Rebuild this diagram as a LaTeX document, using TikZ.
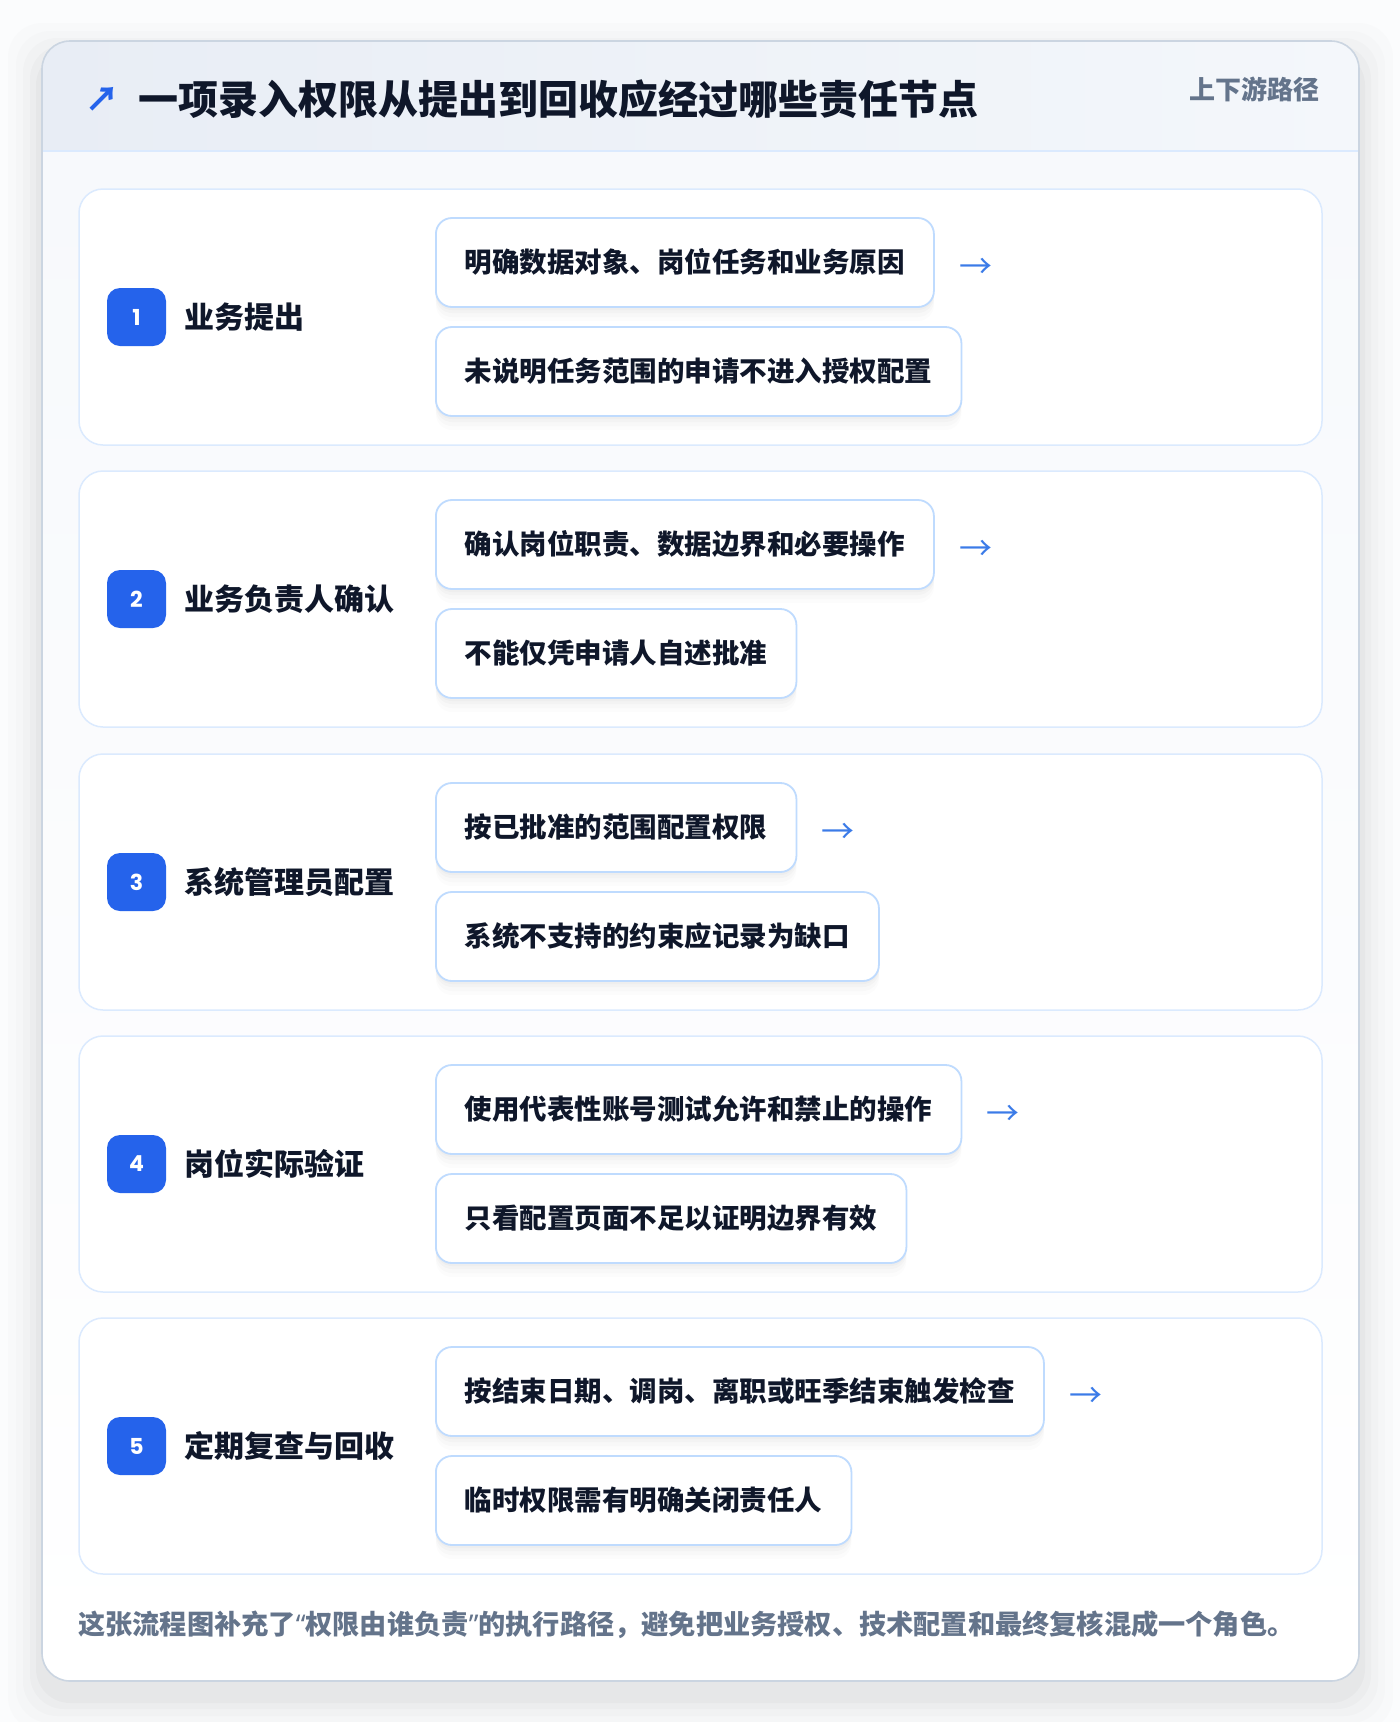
\documentclass[tikz,border=0pt]{standalone}
\usepackage{fontspec}
\setmainfont{Noto Sans CJK SC}
\newfontfamily\numfont{Poppins}
\newfontfamily\heavyfont{Noto Sans CJK SC Black}
\newfontfamily\latinq{Noto Sans}
\usetikzlibrary{shadows,positioning}
\definecolor{ink}{HTML}{0F172A}
\definecolor{muted}{HTML}{64748B}
\definecolor{accent}{HTML}{2563EB}
\definecolor{arrowc}{HTML}{3B7BE8}
\definecolor{cardline}{HTML}{DBEAFE}
\definecolor{boxline}{HTML}{BFDBFE}
\definecolor{outerline}{HTML}{CBD5E1}
\definecolor{bodybg}{HTML}{F7F9FC}
\definecolor{pagebg}{HTML}{FBFCFD}
\definecolor{headL}{HTML}{E8EDF5}
\definecolor{headR}{HTML}{F4F7FB}
\tikzset{
  cjkf/.style={font=\bfseries\fontsize{#1}{#1}\selectfont, text height=0.88*#1pt, text depth=0.12*#1pt, inner sep=0pt},
  stepcard/.style={draw=cardline, line width=1.5pt, fill=white, rounded corners=24pt},
  badge/.style={fill=accent, rounded corners=13pt, minimum width=59pt, minimum height=58pt, inner sep=0pt, text=white, font=\numfont\bfseries\fontsize{22}{22}\selectfont},
  steplabel/.style={cjkf=30, anchor=west, text=ink},
  subbox/.style={cjkf=27.5, draw=boxline, line width=1.8pt, fill=white, rounded corners=16pt, anchor=west,
    minimum height=89pt, inner xsep=29pt, text=ink,
    drop shadow={shadow xshift=0pt, shadow yshift=-14pt, opacity=0.012, fill=black},
    drop shadow={shadow xshift=0pt, shadow yshift=-10pt, opacity=0.015, fill=black},
    drop shadow={shadow xshift=0pt, shadow yshift=-6pt, opacity=0.018, fill=black},
    drop shadow={shadow xshift=0pt, shadow yshift=-3pt, opacity=0.02, fill=black}},
  nextarrow/.style={text height=0.88*33pt, text depth=0.12*33pt, inner sep=0pt, anchor=west, text=arrowc, font=\fontsize{33}{33}\selectfont},
}
\begin{document}
\begin{tikzpicture}[x=1pt,y=-1pt]
\useasboundingbox (0,0) rectangle (1400,1722);
\fill[pagebg] (0,0) rectangle (1400,1722);
% soft shadow of outer card
\foreach \s/\o in {34/0.010,26/0.012,19/0.015,12/0.018,6/0.022}{
  \fill[black,opacity=\o,rounded corners=34pt] (42-\s,41-\s+16) rectangle (1359+\s,1681+\s+16);
}
% outer card
\begin{scope}
  \clip[rounded corners=28pt] (42,41) rectangle (1359,1681);
  \shade[top color=bodybg, bottom color=white] (42,151) rectangle (1359,1681);
  \shade[left color=headL, right color=headR] (42,41) rectangle (1359,151);
\end{scope}
\draw[cardline,line width=1.5pt] (42,151) -- (1359,151);
\draw[outerline,line width=1.6pt,rounded corners=28pt] (42,41) rectangle (1359,1681);

% header texts
\node[text height=0.88*34pt, text depth=0.12*34pt, inner sep=0pt, text=accent, font=\heavyfont\fontsize{34}{34}\selectfont] (icon) at (102,99) {↗};
\node[text height=0.88*40pt, text depth=0.12*40pt, inner sep=0pt, anchor=west, text=ink, font=\heavyfont\fontsize{40}{40}\selectfont] (title) at (138,99) {一项录入权限从提出到回收应经过哪些责任节点};
\node[cjkf=26, anchor=east, text=muted] (tag) at (1320,90) {上下游路径};

% steps
\foreach \i/\top/\lab/\ta/\tb in {
  1/189/业务提出/明确数据对象、岗位任务和业务原因/未说明任务范围的申请不进入授权配置,
  2/471/业务负责人确认/确认岗位职责、数据边界和必要操作/不能仅凭申请人自述批准,
  3/754/系统管理员配置/按已批准的范围配置权限/系统不支持的约束应记录为缺口,
  4/1036/岗位实际验证/使用代表性账号测试允许和禁止的操作/只看配置页面不足以证明边界有效,
  5/1318/定期复查与回收/按结束日期、调岗、离职或旺季结束触发检查/临时权限需有明确关闭责任人}{
  \draw[stepcard] (79,\top) rectangle (1322,\top+256);
  \node[badge] (b\i) at (136.5,\top+128) {\i};
  \node[steplabel] (l\i) at (184,\top+128) {\lab};
  \node[subbox] (s\i a) at (435,\top+73.5) {\ta};
  \node[subbox] (s\i b) at (435,\top+182.5) {\tb};
  \node[nextarrow] (n\i) at ([xshift=24pt,yshift=-3pt]s\i a.east) {→};
}

% footer
\node[cjkf=27.2, anchor=west, text=muted] (foot) at (78,1624) {这张流程图补充了{\latinq “}权限由谁负责{\latinq ”}的执行路径，避免把业务授权、技术配置和最终复核混成一个角色。};
\end{tikzpicture}
\end{document}
